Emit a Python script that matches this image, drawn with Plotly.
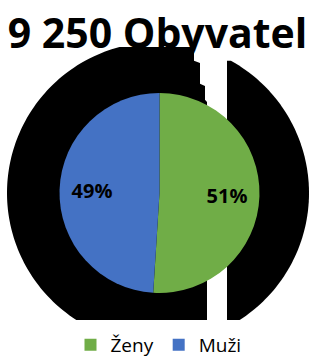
import numpy as np
import plotly.graph_objects as go

# Data
title_text = "9 250 Obyvatel"
labels = ["Ženy", "Muži"]
values = [51, 49]
colors = ["#70AD47", "#4472C4"]

W, H = 309, 356

def P(px, py):
    return px / W, 1 - py / H

# decorative black backdrop (pixel geometry)
cx, cy, r = 158.0, 193.0, 151.0
ytop, ybot = 47.0, 320.0

def left_edge_limit(y):
    if y < 62:
        return 194.0
    if y < 85:
        return 200.0
    if y < 100:
        return 205.0
    return 207.0

ys = np.linspace(ytop, ybot, 120)
right_pts, left_pts = [], []
for y in ys:
    d = r * r - (y - cy) ** 2
    if d <= 0:
        continue
    hw = np.sqrt(d)
    xl = cx - hw
    xr = min(cx + hw, left_edge_limit(y))
    if xr > xl:
        left_pts.append((xl, y))
        right_pts.append((xr, y))
poly1 = right_pts + left_pts[::-1]

r2_in, r2_out = [], []
for y in ys:
    d = r * r - (y - cy) ** 2
    if d <= 0:
        continue
    hw = np.sqrt(d)
    xo = cx + hw
    if xo > 227:
        r2_in.append((227.0, y))
        r2_out.append((xo, y))
poly2 = r2_out + r2_in[::-1]

def path_of(poly):
    s = ""
    for i, (x, y) in enumerate(poly):
        px, py = P(x, y)
        s += ("M" if i == 0 else "L") + f"{px:.5f},{py:.5f}"
    return s + "Z"

shapes = [
    dict(type="path", path=path_of(poly1), xref="paper", yref="paper",
         fillcolor="black", line=dict(width=0), layer="below"),
    dict(type="path", path=path_of(poly2), xref="paper", yref="paper",
         fillcolor="black", line=dict(width=0), layer="below"),
]

x0, _ = P(59.5, 0)
x1, _ = P(259.5, 0)
_, y0 = P(0, 293)
_, y1 = P(0, 93)
dom = dict(x=[x0, x1], y=[y0, y1])

fig = go.Figure()
# coloured pie (legend source)
fig.add_trace(go.Pie(
    labels=labels,
    values=values,
    sort=False,
    direction="clockwise",
    rotation=0,
    marker=dict(colors=colors, line=dict(width=0)),
    textinfo="none",
    domain=dom,
    hoverinfo="label+percent",
))
# transparent overlay carrying the percentage labels further out
fig.add_trace(go.Pie(
    labels=labels,
    values=values,
    sort=False,
    direction="clockwise",
    rotation=0,
    hole=0.35,
    marker=dict(colors=["rgba(0,0,0,0)"] * len(values), line=dict(width=0)),
    texttemplate="<b>%{percent:.0%}</b>",
    textposition="inside",
    insidetextorientation="horizontal",
    textfont=dict(family="Open Sans", size=20, color="black"),
    domain=dom,
    hoverinfo="skip",
    showlegend=False,
))

fig.update_layout(
    width=W, height=H,
    margin=dict(l=0, r=0, t=0, b=0, autoexpand=False),
    paper_bgcolor="white",
    plot_bgcolor="white",
    shapes=shapes,
    title=dict(text=f"<b>{title_text}</b>", x=0.5 + 3 / W, xanchor="center",
               y=1 - 34 / H, yanchor="middle", yref="container",
               font=dict(family="Open Sans", size=41, color="black")),
    legend=dict(orientation="h", x=0.5 + 4 / W, xanchor="center",
                y=1 - 345 / H, yanchor="middle",
                font=dict(family="Open Sans", size=19, color="black"),
                itemwidth=30, tracegroupgap=0),
    showlegend=True,
)

fig.write_html("out.html", config={"displayModeBar": False},
               post_script="document.body.style.margin='0';document.body.style.overflow='hidden';")
